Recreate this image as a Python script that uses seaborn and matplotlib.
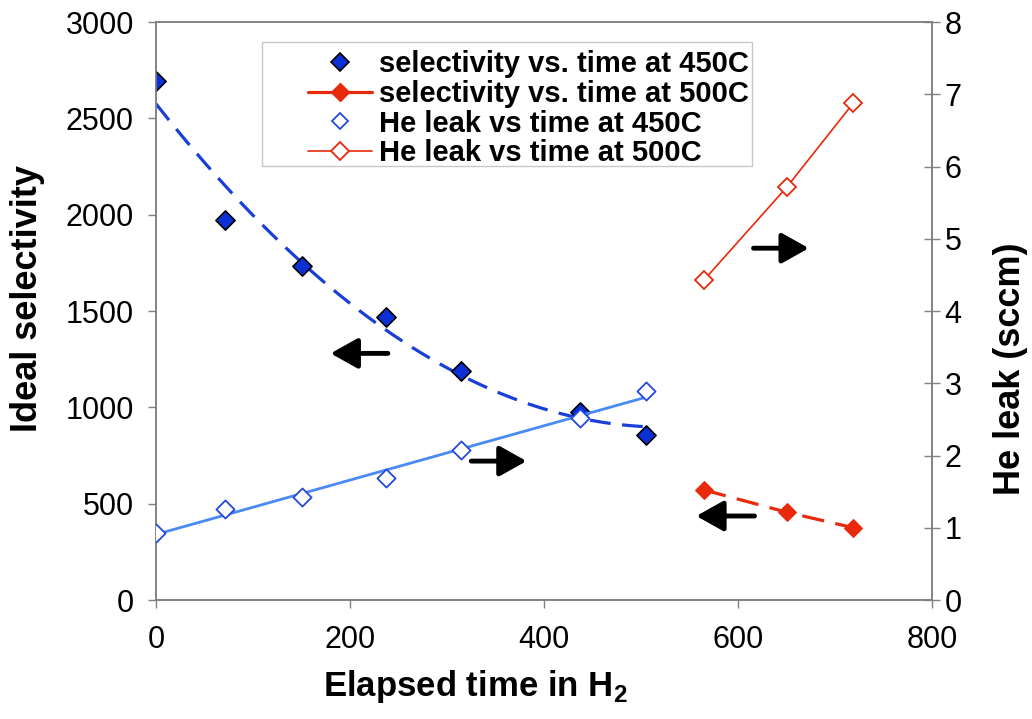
import seaborn as sns
import matplotlib.pyplot as plt
import numpy as np
from matplotlib.lines import Line2D
from matplotlib.patches import Rectangle

# elapsed time (h) for each run
time_450 = [0, 71, 150, 237, 314, 437, 505]
time_500 = [565, 650, 719]

# ideal selectivity (left axis)
sel_450 = [2695, 1972, 1732, 1469, 1190, 978, 856]
sel_500 = [571, 456, 375]

# He leak in sccm (right axis)
leak_450 = [0.93, 1.26, 1.43, 1.69, 2.08, 2.52, 2.89]
leak_500 = [4.43, 5.71, 6.88]

legend_labels = ["selectivity vs. time at 450C", "selectivity vs. time at 500C",
                 "He leak vs time at 450C", "He leak vs time at 500C"]

dark_blue = '#0b30d6'
light_blue = '#4a8af4'
red = '#e8290b'
grey = '#808080'

sns.set_theme(style='white')
plt.rcParams['font.family'] = ['Liberation Sans', 'DejaVu Sans']
plt.rcParams['mathtext.fontset'] = 'custom'
plt.rcParams['mathtext.rm'] = 'Liberation Sans'
plt.rcParams['mathtext.bf'] = 'Liberation Sans:bold'
plt.rcParams['text.color'] = 'black'
plt.rcParams['axes.labelcolor'] = 'black'

fig = plt.figure(figsize=(10.32, 7.19), dpi=100)
ax = fig.add_axes([0.1512, 0.1655, 0.7519, 0.8039])
ax2 = ax.twinx()

# Excel-like trendlines fitted on the 450C data
xs = np.linspace(time_450[0], time_450[-1], 200)
sel_fit = np.polyval(np.polyfit(time_450, sel_450, 2), xs)
leak_fit = np.polyval(np.polyfit(time_450, leak_450, 1), xs)

sns.lineplot(x=xs, y=sel_fit, ax=ax, color='#1a3fd9', lw=2.3,
             linestyle=(0, (6.5, 3.6)), zorder=2)
sns.scatterplot(x=time_450, y=sel_450, ax=ax, marker='D', s=95,
                color=dark_blue, edgecolor='black', linewidth=1.2, zorder=3)
sns.lineplot(x=time_500, y=sel_500, ax=ax, color=red, lw=2.3,
             linestyle=(0, (7, 3.6)), marker='D', markersize=9,
             markeredgecolor=red, zorder=3)

sns.lineplot(x=xs, y=leak_fit, ax=ax2, color=light_blue, lw=2.0, zorder=2)
sns.scatterplot(x=time_450, y=leak_450, ax=ax2, marker='D', s=85,
                facecolor='white', edgecolor='#2448e0', linewidth=1.3, zorder=3)
sns.lineplot(x=time_500, y=leak_500, ax=ax2, color=red, lw=1.2,
             marker='D', markersize=9.5, markerfacecolor='white',
             markeredgecolor=red, markeredgewidth=1.3, zorder=3)

# arrows telling which axis each curve belongs to
arrow_kw = dict(arrowstyle='-|>,head_length=0.75,head_width=0.42', lw=3.5,
                color='black', mutation_scale=22, shrinkA=0, shrinkB=0)
for tail, tip in [((239, 1280), (180, 1280)), ((325, 721), (382, 721)),
                  ((616, 1826), (673, 1826)), ((617, 436), (557, 436))]:
    ax.annotate('', xy=tip, xytext=tail, arrowprops=arrow_kw)

ax.set_xlim(0, 800)
ax.set_ylim(0, 3000)
ax2.set_ylim(0, 8)
ax.set_xticks(range(0, 801, 200))
ax.set_yticks(range(0, 3001, 500))
ax2.set_yticks(range(0, 9))

for a in (ax, ax2):
    for sp in a.spines.values():
        sp.set_color(grey)
        sp.set_linewidth(1.1)
ax.tick_params(axis='both', direction='out', length=6, width=1, color=grey,
               labelcolor='black', labelsize=22, pad=10, left=True, bottom=True)
ax.tick_params(axis='x', pad=12)
ax2.tick_params(axis='y', direction='inout', length=12, width=1, color=grey,
                labelcolor='black', labelsize=22, pad=3, right=True)

ax.set_xlabel(r"Elapsed time in H$_\mathbf{2}$", fontsize=25, fontweight='bold')
ax.set_ylabel("Ideal selectivity", fontsize=26, fontweight='bold')
ax2.set_ylabel("He leak (sccm)", fontsize=26, fontweight='bold')
ax.xaxis.set_label_coords(0.411, -0.117)
ax.yaxis.set_label_coords(-0.143, 0.521)
ax2.yaxis.set_label_coords(1.079, 0.40)

handles = [
    Line2D([], [], linestyle='none', marker='D', markersize=9,
           markerfacecolor=dark_blue, markeredgecolor='black', markeredgewidth=1.2),
    Line2D([], [], color=red, lw=2.3, marker='D', markersize=9,
           markerfacecolor=red, markeredgecolor=red),
    Line2D([], [], linestyle='none', marker='D', markersize=8.5,
           markerfacecolor='white', markeredgecolor='#2448e0', markeredgewidth=1.3),
    Line2D([], [], color=red, lw=1.2, marker='D', markersize=9.5,
           markerfacecolor='white', markeredgecolor=red, markeredgewidth=1.3),
]
box = Rectangle((262 / 1032, 1 - 166 / 719), 490 / 1032, 124 / 719,
                transform=fig.transFigure, facecolor='white',
                edgecolor='#c8c8c8', lw=1.0, zorder=5, clip_on=False)
ax2.add_patch(box)
leg = ax2.legend(handles, legend_labels, loc='upper left',
                 bbox_to_anchor=(308 / 1032, 1 - 50 / 719),
                 bbox_transform=fig.transFigure, frameon=False,
                 prop={'weight': 'bold', 'size': 21}, handlelength=2.2,
                 handletextpad=0.25, labelspacing=0.06, borderpad=0,
                 borderaxespad=0)
leg.set_zorder(6)

fig.savefig('out.png', dpi=100)
